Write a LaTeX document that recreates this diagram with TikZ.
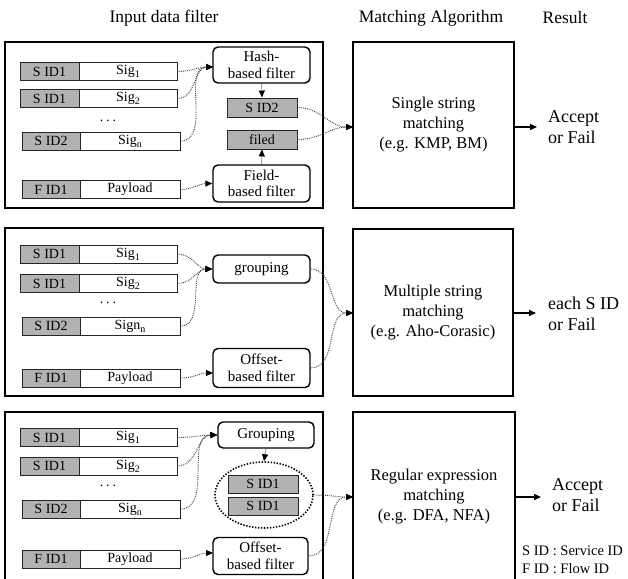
\documentclass[tikz,border=0pt]{standalone}
\usepackage{fontspec}
\setmainfont{Liberation Serif}
\usetikzlibrary{arrows.meta,shapes.geometric}
\newcommand\mysub[1]{\raisebox{-3pt}{\fontsize{10}{10}\selectfont #1}}
\tikzset{
  idbox/.style={draw=black!85, line width=0.9pt, fill=black!30, minimum height=18pt, inner sep=0pt, font=\fontsize{14}{16}\selectfont},
  sigbox/.style={idbox, fill=white},
  fltbox/.style={draw, line width=1.4pt, rounded corners=5pt, align=center, inner sep=0pt, font=\fontsize{15}{16.5}\selectfont},
  panel/.style={draw, line width=1.4pt, inner sep=0pt},
  mbox/.style={draw, line width=1.4pt, inner sep=0pt, align=center, font=\fontsize{16.5}{20}\selectfont},
  conn/.style={densely dotted, line width=0.9pt, draw=black!75, -{Triangle[length=7pt,width=6pt,black]}},
  resarrow/.style={line width=1.4pt, -{Triangle[length=7pt,width=6pt]}},
  restext/.style={anchor=west, align=left, inner sep=0pt, font=\fontsize{18}{21.5}\selectfont},
  title/.style={font=\fontsize{17.5}{20}\selectfont, inner sep=0pt},
  dotsnode/.style={font=\fontsize{14}{16}\selectfont, inner sep=0pt}
}
\newcommand\sigrow[7]{%
  \node[idbox, minimum width={#4-#2}] (#1a) at ({(#2+#4)/2},#3) {#6};
  \node[sigbox, minimum width={#5-#4}] (#1b) at ({(#4+#5)/2},#3) {#7};}
\begin{document}
\begin{tikzpicture}[x=1pt,y=-1pt]
\useasboundingbox (0,0) rectangle (628,578);
\clip (0,0) rectangle (628,578);

% titles
\node[title] (t1) at (164,18) {Input data filter};
\node[title] (t2) at (431,18) {Matching Algorithm};
\node[title] (t3) at (565,18) {Result};

% ---------------- panel 1
\node[panel, minimum width=318, minimum height=166] (pan1) at (164,125) {};
\sigrow{pa}{20}{71.5}{79}{177}{S ID1}{Sig\mysub{1}}
\sigrow{pb}{20}{98.5}{79}{177}{S ID1}{Sig\mysub{2}}
\sigrow{pc}{22}{141}{80}{180}{S ID2}{Sig\mysub{n}}
\sigrow{pd}{22}{189.5}{80}{180}{F ID1}{Payload}
\node[dotsnode] (dots1) at (108,121) {.\hspace{3pt}.\hspace{3pt}.};
\node[fltbox, minimum width=97, minimum height=36] (hash) at (261.5,65) {Hash-\\based filter};
\node[idbox, minimum width=70, minimum height=19] (sid2) at (262,107.5) {S ID2};
\node[idbox, minimum width=70, minimum height=19] (filed) at (262,139.5) {filed};
\node[fltbox, minimum width=97, minimum height=37] (field) at (261.5,183.5) {Field-\\based filter};
\node[mbox, minimum width=161, minimum height=166] (m1) at (433.5,125) {Single string\\matching\\(e.g. KMP, BM)};
\coordinate (h1) at (213,67);
\draw[conn] (pab.east) to[out=0,in=180] (h1);
\draw[conn] (pbb.east) to[out=0,in=180] (h1);
\draw[conn] (pcb.east) to[out=0,in=180] (h1);
\draw[conn] (pdb.east) to[out=0,in=180] (field.west);
\draw[conn] (hash.south) -- (sid2.north);
\draw[conn] (field.north) -- (filed.south);
\coordinate (m1in) at (353,127);
\draw[conn] (sid2.east) to[out=0,in=180] (m1in);
\draw[conn] (filed.east) to[out=0,in=180] (m1in);
\coordinate (r1e) at (537,127);
\draw[resarrow] (m1.east |- r1e) -- (r1e);
\node[restext] (rt1) at (548,127) {Accept\\or Fail};

% ---------------- panel 2
\node[panel, minimum width=318, minimum height=168] (pan2) at (164,312) {};
\sigrow{qa}{20}{254}{79}{177}{S ID1}{Sig\mysub{1}}
\sigrow{qb}{20}{283.5}{79}{177}{S ID1}{Sig\mysub{2}}
\sigrow{qc}{22}{326}{80}{180}{S ID2}{Sign\mysub{n}}
\sigrow{qd}{22}{378}{80}{180}{F ID1}{Payload}
\node[dotsnode] (dots2) at (108,303) {.\hspace{3pt}.\hspace{3pt}.};
\node[fltbox, minimum width=97, minimum height=28] (grp2) at (261.5,269) {grouping};
\node[fltbox, minimum width=97, minimum height=39] (off2) at (261.5,368) {Offset-\\based filter};
\node[mbox, minimum width=160, minimum height=167] (m2) at (433,312.5) {Multiple string\\matching\\(e.g. Aho-Corasic)};
\draw[conn] (qab.east) to[out=0,in=180] (grp2.west);
\draw[conn] (qbb.east) to[out=0,in=180] (grp2.west);
\draw[conn] (qcb.east) to[out=0,in=180] (grp2.west);
\coordinate (o2in) at (213,373);
\draw[conn] (qdb.east) to[out=0,in=180] (o2in);
\coordinate (m2in) at (353,313);
\draw[conn] (grp2.east) to[out=0,in=180] (m2in);
\draw[conn] (off2.east) to[out=0,in=180] (m2in);
\coordinate (r2e) at (536,313);
\draw[resarrow] (m2.east |- r2e) -- (r2e);
\node[restext] (rt2) at (548,314) {each S ID\\or Fail};

% ---------------- panel 3
\node[panel, minimum width=318, minimum height=170] (pan3) at (164,497) {};
\sigrow{ra}{20}{437.5}{79}{177}{S ID1}{Sig\mysub{1}}
\sigrow{rb}{20}{466}{79}{177}{S ID1}{Sig\mysub{2}}
\sigrow{rc}{22}{509}{80}{180}{S ID2}{Sig\mysub{n}}
\sigrow{rd}{22}{559}{80}{180}{F ID1}{Payload}
\node[dotsnode] (dots3) at (108,486) {.\hspace{3pt}.\hspace{3pt}.};
\node[fltbox, minimum width=96, minimum height=26] (grp3) at (266,435) {Grouping};
\node[ellipse, draw, line width=1.6pt, dash pattern=on 1.4pt off 1.6pt, minimum width=98, minimum height=66, inner sep=0pt] (ell) at (264,495) {};
\node[idbox, minimum width=70, minimum height=18] (s31) at (263,484) {S ID1};
\node[idbox, minimum width=70, minimum height=18] (s32) at (263,506) {S ID1};
\node[fltbox, minimum width=95, minimum height=37] (off3) at (260.5,556) {Offset-\\based filter};
\node[mbox, minimum width=162, minimum height=170] (m3) at (434,497) {Regular expression\\matching\\(e.g. DFA, NFA)};
\draw[conn] (rab.east) to[out=0,in=180] (grp3.west);
\draw[conn] (rbb.east) to[out=0,in=180] (grp3.west);
\draw[conn] (rcb.east) to[out=0,in=180] (grp3.west);
\coordinate (o3in) at (213,553);
\draw[conn] (rdb.east) to[out=0,in=180] (o3in);
\draw[conn] (grp3.south) -- (ell.north);
\coordinate (m3in) at (353,497);
\draw[conn] (ell.east) to[out=0,in=180] (m3in);
\draw[conn] (off3.east) to[out=0,in=180] (m3in);
\coordinate (r3e) at (541,497);
\draw[resarrow] (m3.east |- r3e) -- (r3e);
\node[restext] (rt3) at (552,495) {Accept\\or Fail};

% legend
\node[anchor=west, align=left, inner sep=0pt, font=\fontsize{14.5}{18}\selectfont] (leg) at (522,560) {S ID : Service ID\\F ID : Flow ID};
\end{tikzpicture}
\end{document}
